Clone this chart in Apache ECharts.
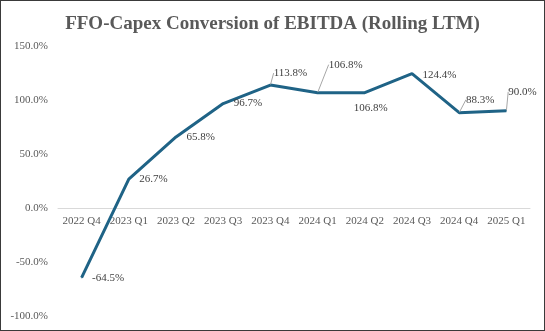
<!DOCTYPE html>
<html><head><meta charset="utf-8">
<script src="https://cdn.jsdelivr.net/npm/echarts@6/dist/echarts.min.js"></script>
<style>
html,body{margin:0;padding:0;background:#fff;}
#c{width:545px;height:331px;box-sizing:border-box;border:1px solid #3a3a3a;}
</style></head>
<body><div id="c"></div>
<script>
var categories = ['2022 Q4','2023 Q1','2023 Q2','2023 Q3','2023 Q4','2024 Q1','2024 Q2','2024 Q3','2024 Q4','2025 Q1'];
var values = [-64.5, 26.7, 65.8, 96.7, 113.8, 106.8, 106.8, 124.4, 88.3, 90.0];
var yTicks = [-100, -50, 0, 50, 100, 150];

var labelPos = ['right','right','right','right','top','top','bottom','right','top','top'];
var labelShift = [[0,0],[0,0],[0,0],[0,0],[20,4],[28,-12],[6,-1],[0,1],[21,3],[16,-3]];
var leader = [false,false,false,false,true,true,false,false,true,true];

var chart = echarts.init(document.getElementById('c'));
var font = '"Liberation Serif","DejaVu Serif",serif';
var option = {
  animation:false,
  title:{text:'FFO-Capex Conversion of EBITDA (Rolling LTM)',left:'center',top:9,
    textStyle:{fontFamily:font,fontSize:19,fontWeight:'bold',color:'#595959'}},
  grid:{left:57,right:14,top:45,bottom:14,containLabel:false,outerBoundsMode:'none'},
  xAxis:{type:'category',data:categories,offset:0,
    axisLine:{onZero:false,lineStyle:{color:'#d9d9d9',width:1}},axisTick:{show:false},
    axisLabel:{color:'#595959',fontFamily:font,fontSize:11,margin:8,interval:0}},
  yAxis:{type:'value',min:yTicks[0],max:yTicks[yTicks.length-1],interval:50,
    axisLine:{show:false},axisTick:{show:false},splitLine:{show:false},
    axisLabel:{color:'#595959',fontFamily:font,fontSize:11,margin:10,
      formatter:function(v){return v.toFixed(1)+'%';}}},
  series:[{type:'line',
    data:values.map(function(v,i){
      return {value:v,label:{position:labelPos[i]},labelLine:{show:leader[i],lineStyle:{color:'#a6a6a6',width:1}}};
    }),
    symbol:'circle',symbolSize:1,
    lineStyle:{color:'#1f6386',width:3},itemStyle:{color:'#1f6386'},
    label:{show:true,distance:10,color:'#404040',fontFamily:font,fontSize:11,
      formatter:function(p){return p.value.toFixed(1)+'%';}},
    labelLayout:function(p){var s=labelShift[p.dataIndex];return {dx:s[0],dy:s[1]};}
  }]
};
chart.setOption(option);
var zeroY = chart.convertToPixel({yAxisIndex:0}, 0);
var bottomY = chart.convertToPixel({yAxisIndex:0}, yTicks[0]);
chart.setOption({xAxis:{offset:-(bottomY-zeroY)}});
</script></body></html>
